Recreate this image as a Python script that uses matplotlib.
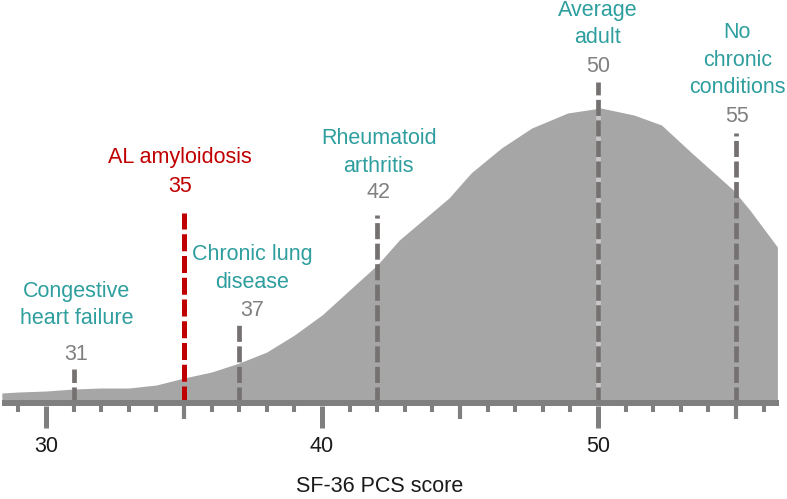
import matplotlib
matplotlib.use("Agg")
import matplotlib.pyplot as plt

# distribution of SF-36 physical component scores (arbitrary density units)
scores = [28.4, 29, 30, 31, 32, 33, 34, 35, 36, 37, 38, 39, 40, 41, 42,
          42.8, 43.7, 44.6, 45.4, 46.5, 47.6, 48.9, 50.1, 51.3, 52.3,
          53.4, 54.9, 55.5, 56.5]
density = [1.0, 1.1, 1.2, 1.4, 1.5, 1.5, 1.8, 2.5, 3.1, 4.0, 5.1, 6.8,
           8.8, 11.3, 13.8, 16.3, 18.4, 20.5, 23.0, 25.5, 27.5, 29.0,
           29.5, 28.8, 27.8, 25.0, 21.3, 19.3, 15.6]

# reference conditions
cond_names = ["Congestive\nheart failure", "AL amyloidosis",
              "Chronic lung\ndisease", "Rheumatoid\narthritis",
              "Average\nadult", "No\nchronic\nconditions"]
cond_scores = [31, 35, 37, 42, 50, 55]

# layout for the annotations
line_tops = [3.4, 19.0, 8.0, 18.8, 32.1, 27.0]
num_y = [4.8, 21.6, 9.2, 21.0, 33.6, 28.6]
name_y = [9.8, 24.5, 13.45, 25.05, 37.9, 34.3]
text_dx = [0.1, -0.14, 0.46, 0.05, 0.0, 0.05]

tick_major = [30, 40, 50]
tick_mid = [35, 45, 55]

teal = "#2e9e9e"
red = "#c00000"
dash_grey = "#767171"
axis_grey = "#7f7f7f"
fs = 15.5

plt.rcParams["font.family"] = ["Liberation Sans", "DejaVu Sans"]

fig = plt.figure(figsize=(7.87, 4.99), dpi=100)
ax = fig.add_axes([0, 0, 1, 1])
ax.set_xlim(28.333, 56.848)
ax.set_ylim(-9.6, 40.3)
ax.axis("off")

ax.fill_between(scores, 0, density, color="#a6a6a6", linewidth=0, zorder=1)

# light underlay under the average line (gaps look lighter inside the fill)
ax.plot([50, 50], [0, 29.5], color="#c8c8c8", linewidth=3.4,
        solid_capstyle="butt", zorder=2)

for i in range(len(cond_scores)):
    c = red if cond_names[i] == "AL amyloidosis" else dash_grey
    ax.plot([cond_scores[i], cond_scores[i]], [0, line_tops[i]], color=c,
            linewidth=3.6 if c == red else 3.4, dashes=(3.4, 0.95),
            dash_capstyle="butt", zorder=3)
    num_col = red if c == red else "#808080"
    name_col = red if c == red else teal
    x = cond_scores[i] + text_dx[i]
    ax.text(x, num_y[i], str(cond_scores[i]), color=num_col, fontsize=fs,
            ha="center", va="center", zorder=5)
    ax.text(x, name_y[i], cond_names[i], color=name_col, fontsize=fs,
            ha="center", va="center", linespacing=1.4, zorder=5)

# axis line and ticks
ax.plot([28.4, 56.55], [0, 0], color=axis_grey, linewidth=4.3,
        solid_capstyle="butt", zorder=4)
for t in range(29, 57):
    if t in tick_major:
        ax.plot([t, t], [-0.3, -2.5], color=axis_grey, linewidth=3.6,
                solid_capstyle="butt", zorder=4)
        ax.text(t, -4.4, str(t), fontsize=fs, ha="center", va="center",
                color="#1a1a1a")
    elif t in tick_mid:
        ax.plot([t, t], [-0.3, -1.6], color=axis_grey, linewidth=3.0,
                solid_capstyle="butt", zorder=4)
    else:
        ax.plot([t, t], [-0.3, -0.9], color=axis_grey, linewidth=2.9,
                solid_capstyle="butt", zorder=4)

ax.text(42.07, -8.4, "SF-36 PCS score", fontsize=fs, ha="center",
        va="center", color="#1a1a1a")

plt.savefig("out.png", dpi=100)
plt.close()
